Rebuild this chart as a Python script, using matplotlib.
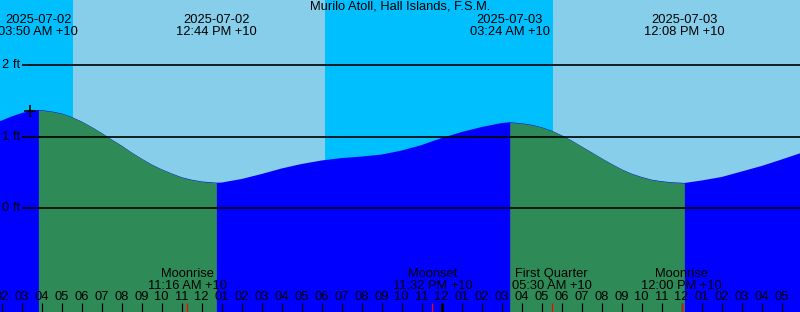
import matplotlib
matplotlib.use("Agg")
import matplotlib.pyplot as plt

# horas desde 2025-07-02 00:00 (+10) y nivel de marea en pies
horas = [1.915, 2, 2.5, 3, 3.5, 3.833, 4, 4.5, 5, 5.5, 6, 6.5, 7, 7.5, 8, 8.5, 9, 9.5,
         10, 10.5, 11, 11.5, 12, 12.733,
         13, 14, 15, 16, 17, 18, 19, 20, 21, 22, 23, 24, 25, 26, 27, 27.4,
         28, 28.5, 29, 29.5, 30, 30.5, 31, 31.5, 32, 32.5, 33, 33.5, 34, 34.5,
         35, 35.5, 36, 36.133,
         37, 38, 39, 40, 41, 41.915]
nivel = [1.221, 1.228, 1.285, 1.333, 1.365, 1.375, 1.372, 1.354, 1.326, 1.277, 1.214, 1.137, 1.053, 0.962,
         0.876, 0.780, 0.694, 0.613, 0.545, 0.487, 0.434, 0.399, 0.375, 0.358,
         0.360, 0.410, 0.480, 0.557, 0.620, 0.669, 0.703, 0.724, 0.752, 0.808, 0.885, 0.983, 1.067, 1.137, 1.193, 1.203,
         1.189, 1.168, 1.133, 1.085, 1.021, 0.948, 0.864, 0.783, 0.699, 0.620, 0.545, 0.484, 0.438, 0.400,
         0.378, 0.364, 0.357, 0.354,
         0.389, 0.438, 0.515, 0.592, 0.683, 0.769]

# pleamar / bajamar
extremos_h = [3.833, 12.733, 27.4, 36.133]
extremos_txt = ["2025-07-02\n03:50 AM +10", "2025-07-02\n12:44 PM +10",
                "2025-07-03\n03:24 AM +10", "2025-07-03\n12:08 PM +10"]

# salida y puesta del sol
dia_inicio = [5.57, 29.565]
dia_fin = [18.17, 41.915]

# eventos lunares
luna_h = [11.267, 23.533, 29.5, 36.0]
luna_txt = ["Moonrise\n11:16 AM +10", "Moonset\n11:32 PM +10",
            "First Quarter\n05:30 AM +10", "Moonrise\n12:00 PM +10"]

marca_h = [3.415]
marca_nivel = [1.361]

niveles_ft = [0, 1, 2]
horas_tick = list(range(2, 42))
medianoche = [24]

x0, x1 = 1.915, 41.915
y0, y1 = -1.45, 2.913
fs = 9.3

plt.rcParams['font.family'] = ['Liberation Sans', 'DejaVu Sans']
fig = plt.figure(figsize=(8, 3.12), dpi=100)
ax = fig.add_axes([0, 0, 1, 1])
ax.set_xlim(x0, x1)
ax.set_ylim(y0, y1)
ax.axis("off")

# fondo noche / dia
ax.axvspan(x0, x1, color="#00BFFF", lw=0)
for a, b in zip(dia_inicio, dia_fin):
    ax.axvspan(a, b, color="#87CEEB", lw=0)

# marea: subiendo azul, bajando verde
ax.fill_between(horas, y0, nivel, color="#0000FF", lw=0)
for a, b in [(0, 1), (2, 3)]:
    i = horas.index(extremos_h[a])
    j = horas.index(extremos_h[b])
    ax.fill_between(horas[i:j + 1], y0, nivel[i:j + 1], color="#2E8B57", lw=0)

# lineas de nivel
for n in niveles_ft:
    ax.hlines(n, 3.0, x1, color="black", lw=1.2)
    ax.text(x0 + 0.1, n, f"{n} ft", ha="left", va="center", fontsize=fs)

ax.plot(marca_h, marca_nivel, marker="+", color="black", ms=8, mew=1.2, ls="none")

ax.text(0.5, 0.978, "Murilo Atoll, Hall Islands, F.S.M.", transform=ax.transAxes,
        ha="center", va="center", fontsize=fs)

trans = ax.get_xaxis_transform()
for h, t in zip(extremos_h, extremos_txt):
    ax.text(h, 0.917, t, transform=trans, ha="center", va="center", fontsize=fs, linespacing=1.0)

for h, t in zip(luna_h, luna_txt):
    ax.text(h, 0.104, t, transform=trans, ha="center", va="center", fontsize=fs, linespacing=1.0)

# eje de horas
for h in horas_tick:
    etiqueta = "12" if h % 12 == 0 else f"{h % 12:02d}"
    ax.text(h, 0.047, etiqueta, transform=trans, ha="center", va="center", fontsize=fs)
ax.vlines(horas_tick, 0, 0.028, transform=trans, color="black", lw=0.9)
ax.vlines(medianoche, 0, 0.028, transform=trans, color="black", lw=2.2)
ax.vlines(luna_h, 0, 0.028, transform=trans, color="red", lw=0.9)

fig.savefig("out.png", dpi=100)
